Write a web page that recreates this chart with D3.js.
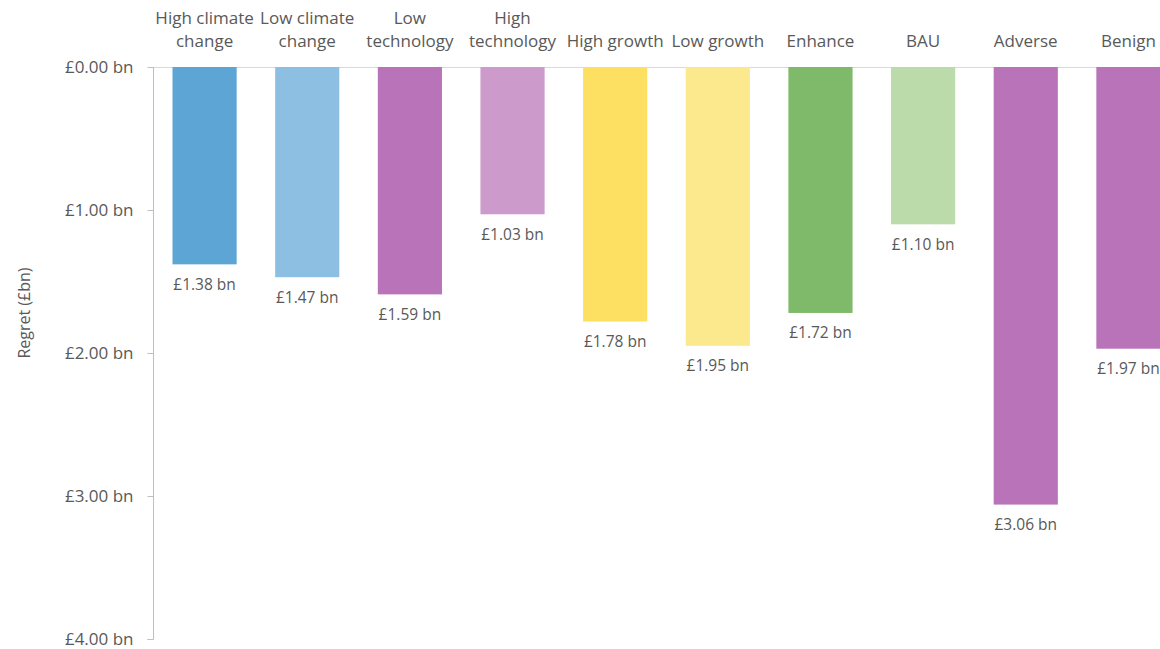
<!DOCTYPE html>
<html><head><meta charset="utf-8">
<script src="https://cdn.jsdelivr.net/npm/d3@7"></script>
<style>body{margin:0;background:#fff;overflow:hidden}svg{display:block}text{font-family:"Open Sans",sans-serif;fill:#595959}</style>
</head><body><svg id="c" width="1160" height="649"></svg>
<script>
const categories = ["High climate change","Low climate change","Low technology","High technology","High growth","Low growth","Enhance","BAU","Adverse","Benign"];
const categoryLines = [["High climate","change"],["Low climate","change"],["Low","technology"],["High","technology"],["High growth"],["Low growth"],["Enhance"],["BAU"],["Adverse"],["Benign"]];
const values = [1.38,1.47,1.59,1.03,1.78,1.95,1.72,1.10,3.06,1.97];
const colors = ["#5DA5D5","#8DBFE2","#B973B8","#CC9ACB","#FDDF62","#FDE98D","#7FB96A","#BBDBAB","#B973B8","#B973B8"];
const yTicks = [0,1,2,3,4];

const svg = d3.select("#c");
const x = d3.scaleBand().domain(categories).range([153,1180]).paddingInner(0.375).paddingOuter(0.19);
const y = d3.scaleLinear().domain([0,4]).range([67,639]);

// top zero line
svg.append("line").attr("x1",153).attr("x2",1160).attr("y1",y(0)+0.5).attr("y2",y(0)+0.5).attr("stroke","#D9D9D9");

const yAxis = d3.axisLeft(y).tickValues(yTicks).tickSize(6).tickPadding(14).tickFormat(d=>"£"+d.toFixed(2)+" bn");
const ga = svg.append("g").attr("transform","translate(153.5,0)").call(yAxis);
ga.select(".domain").attr("stroke","#BFBFBF").attr("d","M-6,"+(y(4)+0.5)+"H0V"+y(0));
ga.selectAll(".tick line").attr("stroke","#BFBFBF");
ga.selectAll(".tick text").style("font-size","17px").attr("fill","#595959").style("font-family","Open Sans");

svg.selectAll("rect.bar").data(values).join("rect").attr("class","bar")
  .attr("x",(d,i)=>x(categories[i])).attr("width",x.bandwidth())
  .attr("y",y(0)).attr("height",d=>y(d)-y(0)).attr("fill",(d,i)=>colors[i]);

svg.selectAll("text.val").data(values).join("text").attr("class","val")
  .attr("x",(d,i)=>x(categories[i])+x.bandwidth()/2).attr("y",d=>y(d)+25.5)
  .attr("text-anchor","middle").style("font-size","15.5px").text(d=>"£"+d.toFixed(2)+" bn");

categoryLines.forEach((lines,i)=>{
  const cx = x(categories[i])+x.bandwidth()/2;
  const t = svg.append("text").attr("text-anchor","middle").style("font-size","17px");
  const start = lines.length===2 ? 24 : 47;
  lines.forEach((l,j)=>t.append("tspan").attr("x",cx).attr("y",start+j*23).text(l));
});

svg.append("text").attr("transform","translate(30,313) rotate(-90)").attr("text-anchor","middle")
  .style("font-size","16px").text("Regret (£bn)");
</script></body></html>
